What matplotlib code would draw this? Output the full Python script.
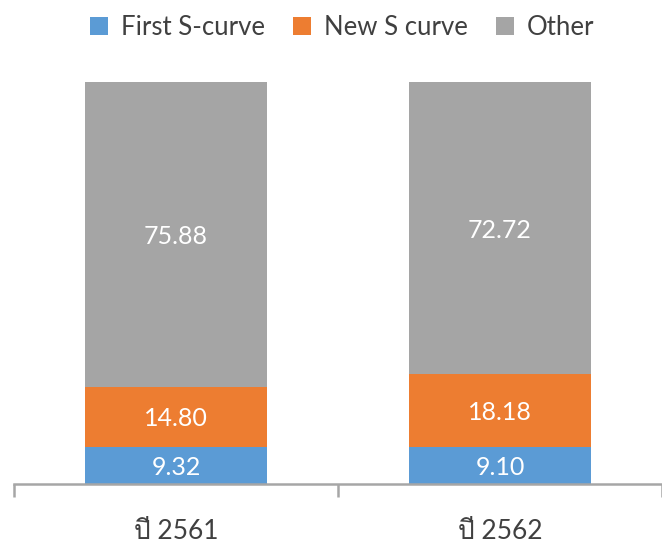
import matplotlib
matplotlib.use("Agg")
import matplotlib.pyplot as plt
from matplotlib import font_manager
from matplotlib.ft2font import FT2Font
from matplotlib.patches import Patch
import numpy as np

categories = ["ปี 2561", "ปี 2562"]
series_names = ["First S-curve", "New S curve", "Other"]
first_s = [9.32, 9.10]
new_s = [14.80, 18.18]
other = [75.88, 72.72]
colors = ["#5B9BD5", "#ED7D31", "#A5A5A5"]


def find_font(ch):
    best = None
    for f in font_manager.fontManager.ttflist:
        try:
            if ord(ch) in FT2Font(f.fname).get_charmap():
                if f.weight in (400, "normal", "regular") and f.style == "normal":
                    return f.name
                if best is None:
                    best = f.name
        except Exception:
            pass
    return best or "DejaVu Sans"


thai_font = find_font("ป")

W, H = 662, 544
fig = plt.figure(figsize=(W / 100, H / 100), dpi=100)
left_px, right_px = 14, 662
bottom_px, top_px = 484, 82
unit_px = 330
ax = fig.add_axes([left_px / W, (H - bottom_px) / H,
                   (right_px - left_px) / W, (bottom_px - top_px) / H])

x = np.arange(len(categories))
series = [first_s, new_s, other]
bottom = np.zeros(len(categories))
for vals, name, c in zip(series, series_names, colors):
    vals = np.array(vals)
    ax.bar(x, vals, width=0.56, bottom=bottom, color=c, label=name, zorder=2)
    for xi, b, v in zip(x, bottom, vals):
        ax.text(xi, b + v / 2, f"{v:.2f}", ha="center", va="center_baseline",
                color="white", fontsize=18, family=["Lato", "DejaVu Sans"], zorder=3)
    bottom = bottom + vals

ax.set_xlim(-0.5, -0.5 + (right_px - left_px) / unit_px)
ax.set_ylim(0, 100)
for s in ["top", "right", "left"]:
    ax.spines[s].set_visible(False)
ax.spines["bottom"].set_color("#a6a6a6")
ax.spines["bottom"].set_linewidth(1.8)
ax.set_yticks([])
ax.set_xticks([-0.5, 0.5, 1.5])
ax.set_xticklabels([])
ax.tick_params(axis="x", which="major", length=9.4, width=1.8, color="#a6a6a6")
ax.set_xticks(x, minor=True)
ax.set_xticklabels(categories, minor=True, fontsize=19,
                   family=["Lato", thai_font, "DejaVu Sans"], color="#404040")
ax.tick_params(axis="x", which="minor", length=0, pad=25)

handles = [Patch(facecolor=c, edgecolor="none") for c in colors]
fig.legend(handles, series_names, loc="center", bbox_to_anchor=(342 / W, 1 - 27 / H),
           ncol=3, frameon=False, handlelength=0.7, handleheight=0.7,
           handletextpad=0.5, columnspacing=1.1,
           prop={"family": ["Lato", "DejaVu Sans"], "size": 18.5},
           labelcolor="#404040")

fig.savefig("out.png", dpi=100)
